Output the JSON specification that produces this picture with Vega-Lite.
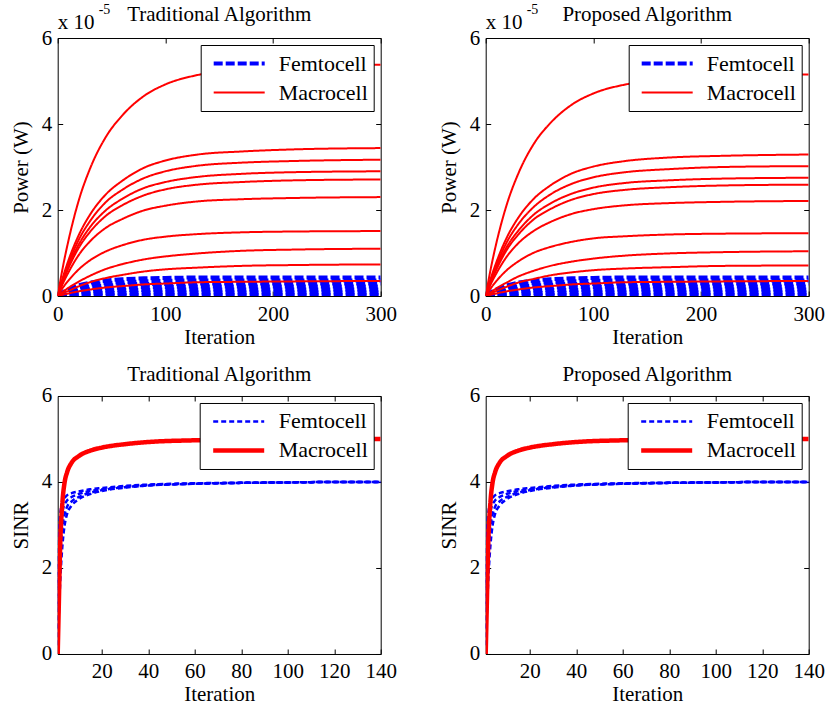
{
"$schema": "https://vega.github.io/schema/vega-lite/v6.json",
"background": "white",
"padding": {"left": 9.7, "top": 2, "right": 5, "bottom": 5},
"config": {
 "font": "Liberation Serif",
 "view": {"stroke": "black", "strokeWidth": 1},
 "axis": {"grid": false, "domain": false, "tickColor": "black", "labelColor": "black", "titleColor": "black", "labelFont": "Liberation Serif", "titleFont": "Liberation Serif", "labelFontSize": 21, "titleFontSize": 21, "titleFontWeight": "normal", "tickSize": -5, "tickWidth": 1, "labelFlush": false, "labelOverlap": false},
 "axisX": {"labelPadding": 12, "titlePadding": 2},
 "axisY": {"labelPadding": 11, "titlePadding": 10},
 "legend": {"orient": "top-right", "offset": 7, "strokeColor": "black", "fillColor": "white", "padding": 5, "labelFont": "Liberation Serif", "labelFontSize": 22, "labelColor": "black", "symbolType": "stroke", "symbolSize": 2601, "symbolOffset": 6, "labelOffset": 12, "clipHeight": 27, "rowPadding": 2},
 "title": {"font": "Liberation Serif", "fontSize": 21, "fontWeight": "normal", "color": "black"}
},
"datasets": {
 "femtoTop": [
  {"s":"Femtocell","id":"F1","t":0,"v":0},{"s":"Femtocell","id":"F1","t":5,"v":0.09},{"s":"Femtocell","id":"F1","t":10,"v":0.15},{"s":"Femtocell","id":"F1","t":20,"v":0.25},{"s":"Femtocell","id":"F1","t":30,"v":0.31},{"s":"Femtocell","id":"F1","t":45,"v":0.36},{"s":"Femtocell","id":"F1","t":60,"v":0.39},{"s":"Femtocell","id":"F1","t":80,"v":0.41},{"s":"Femtocell","id":"F1","t":100,"v":0.42},{"s":"Femtocell","id":"F1","t":130,"v":0.43},{"s":"Femtocell","id":"F1","t":170,"v":0.43},{"s":"Femtocell","id":"F1","t":220,"v":0.43},{"s":"Femtocell","id":"F1","t":300,"v":0.43},
  {"s":"Femtocell","id":"F2","t":0,"v":0},{"s":"Femtocell","id":"F2","t":5,"v":0.07},{"s":"Femtocell","id":"F2","t":10,"v":0.13},{"s":"Femtocell","id":"F2","t":20,"v":0.21},{"s":"Femtocell","id":"F2","t":30,"v":0.26},{"s":"Femtocell","id":"F2","t":45,"v":0.30},{"s":"Femtocell","id":"F2","t":60,"v":0.32},{"s":"Femtocell","id":"F2","t":80,"v":0.34},{"s":"Femtocell","id":"F2","t":100,"v":0.35},{"s":"Femtocell","id":"F2","t":130,"v":0.36},{"s":"Femtocell","id":"F2","t":170,"v":0.36},{"s":"Femtocell","id":"F2","t":220,"v":0.36},{"s":"Femtocell","id":"F2","t":300,"v":0.36},
  {"s":"Femtocell","id":"F3","t":0,"v":0},{"s":"Femtocell","id":"F3","t":5,"v":0.06},{"s":"Femtocell","id":"F3","t":10,"v":0.10},{"s":"Femtocell","id":"F3","t":20,"v":0.17},{"s":"Femtocell","id":"F3","t":30,"v":0.21},{"s":"Femtocell","id":"F3","t":45,"v":0.24},{"s":"Femtocell","id":"F3","t":60,"v":0.26},{"s":"Femtocell","id":"F3","t":80,"v":0.28},{"s":"Femtocell","id":"F3","t":100,"v":0.28},{"s":"Femtocell","id":"F3","t":130,"v":0.29},{"s":"Femtocell","id":"F3","t":170,"v":0.29},{"s":"Femtocell","id":"F3","t":220,"v":0.29},{"s":"Femtocell","id":"F3","t":300,"v":0.29},
  {"s":"Femtocell","id":"F4","t":0,"v":0},{"s":"Femtocell","id":"F4","t":5,"v":0.04},{"s":"Femtocell","id":"F4","t":10,"v":0.08},{"s":"Femtocell","id":"F4","t":20,"v":0.13},{"s":"Femtocell","id":"F4","t":30,"v":0.16},{"s":"Femtocell","id":"F4","t":45,"v":0.18},{"s":"Femtocell","id":"F4","t":60,"v":0.20},{"s":"Femtocell","id":"F4","t":80,"v":0.21},{"s":"Femtocell","id":"F4","t":100,"v":0.21},{"s":"Femtocell","id":"F4","t":130,"v":0.22},{"s":"Femtocell","id":"F4","t":170,"v":0.22},{"s":"Femtocell","id":"F4","t":220,"v":0.22},{"s":"Femtocell","id":"F4","t":300,"v":0.22},
  {"s":"Femtocell","id":"F5","t":0,"v":0},{"s":"Femtocell","id":"F5","t":5,"v":0.03},{"s":"Femtocell","id":"F5","t":10,"v":0.05},{"s":"Femtocell","id":"F5","t":20,"v":0.09},{"s":"Femtocell","id":"F5","t":30,"v":0.11},{"s":"Femtocell","id":"F5","t":45,"v":0.12},{"s":"Femtocell","id":"F5","t":60,"v":0.14},{"s":"Femtocell","id":"F5","t":80,"v":0.14},{"s":"Femtocell","id":"F5","t":100,"v":0.15},{"s":"Femtocell","id":"F5","t":130,"v":0.15},{"s":"Femtocell","id":"F5","t":170,"v":0.15},{"s":"Femtocell","id":"F5","t":220,"v":0.15},{"s":"Femtocell","id":"F5","t":300,"v":0.15},
  {"s":"Femtocell","id":"F6","t":0,"v":0},{"s":"Femtocell","id":"F6","t":5,"v":0.02},{"s":"Femtocell","id":"F6","t":10,"v":0.03},{"s":"Femtocell","id":"F6","t":20,"v":0.05},{"s":"Femtocell","id":"F6","t":30,"v":0.06},{"s":"Femtocell","id":"F6","t":45,"v":0.07},{"s":"Femtocell","id":"F6","t":60,"v":0.07},{"s":"Femtocell","id":"F6","t":80,"v":0.08},{"s":"Femtocell","id":"F6","t":100,"v":0.08},{"s":"Femtocell","id":"F6","t":130,"v":0.08},{"s":"Femtocell","id":"F6","t":170,"v":0.08},{"s":"Femtocell","id":"F6","t":220,"v":0.08},{"s":"Femtocell","id":"F6","t":300,"v":0.08},
  {"s":"Femtocell","id":"F7","t":0,"v":0},{"s":"Femtocell","id":"F7","t":5,"v":0.004},{"s":"Femtocell","id":"F7","t":10,"v":0.007},{"s":"Femtocell","id":"F7","t":20,"v":0.011},{"s":"Femtocell","id":"F7","t":30,"v":0.014},{"s":"Femtocell","id":"F7","t":45,"v":0.017},{"s":"Femtocell","id":"F7","t":60,"v":0.018},{"s":"Femtocell","id":"F7","t":80,"v":0.019},{"s":"Femtocell","id":"F7","t":100,"v":0.02},{"s":"Femtocell","id":"F7","t":130,"v":0.02},{"s":"Femtocell","id":"F7","t":170,"v":0.02},{"s":"Femtocell","id":"F7","t":220,"v":0.02},{"s":"Femtocell","id":"F7","t":300,"v":0.02}
 ],
 "macroTrad": [
  {"s":"Macrocell","id":"M1","t":0,"v":0},{"s":"Macrocell","id":"M1","t":5,"v":0.70},{"s":"Macrocell","id":"M1","t":10,"v":1.29},{"s":"Macrocell","id":"M1","t":20,"v":2.26},{"s":"Macrocell","id":"M1","t":30,"v":2.96},{"s":"Macrocell","id":"M1","t":45,"v":3.71},{"s":"Macrocell","id":"M1","t":60,"v":4.20},{"s":"Macrocell","id":"M1","t":80,"v":4.65},{"s":"Macrocell","id":"M1","t":100,"v":4.92},{"s":"Macrocell","id":"M1","t":130,"v":5.14},{"s":"Macrocell","id":"M1","t":170,"v":5.26},{"s":"Macrocell","id":"M1","t":220,"v":5.34},{"s":"Macrocell","id":"M1","t":300,"v":5.38},
  {"s":"Macrocell","id":"M2","t":0,"v":0},{"s":"Macrocell","id":"M2","t":5,"v":0.45},{"s":"Macrocell","id":"M2","t":10,"v":0.83},{"s":"Macrocell","id":"M2","t":20,"v":1.44},{"s":"Macrocell","id":"M2","t":30,"v":1.89},{"s":"Macrocell","id":"M2","t":45,"v":2.37},{"s":"Macrocell","id":"M2","t":60,"v":2.68},{"s":"Macrocell","id":"M2","t":80,"v":2.98},{"s":"Macrocell","id":"M2","t":100,"v":3.15},{"s":"Macrocell","id":"M2","t":130,"v":3.29},{"s":"Macrocell","id":"M2","t":170,"v":3.36},{"s":"Macrocell","id":"M2","t":220,"v":3.41},{"s":"Macrocell","id":"M2","t":300,"v":3.44},
  {"s":"Macrocell","id":"M3","t":0,"v":0},{"s":"Macrocell","id":"M3","t":5,"v":0.41},{"s":"Macrocell","id":"M3","t":10,"v":0.76},{"s":"Macrocell","id":"M3","t":20,"v":1.33},{"s":"Macrocell","id":"M3","t":30,"v":1.74},{"s":"Macrocell","id":"M3","t":45,"v":2.19},{"s":"Macrocell","id":"M3","t":60,"v":2.47},{"s":"Macrocell","id":"M3","t":80,"v":2.74},{"s":"Macrocell","id":"M3","t":100,"v":2.90},{"s":"Macrocell","id":"M3","t":130,"v":3.03},{"s":"Macrocell","id":"M3","t":170,"v":3.10},{"s":"Macrocell","id":"M3","t":220,"v":3.14},{"s":"Macrocell","id":"M3","t":300,"v":3.17},
  {"s":"Macrocell","id":"M4","t":0,"v":0},{"s":"Macrocell","id":"M4","t":5,"v":0.38},{"s":"Macrocell","id":"M4","t":10,"v":0.70},{"s":"Macrocell","id":"M4","t":20,"v":1.22},{"s":"Macrocell","id":"M4","t":30,"v":1.60},{"s":"Macrocell","id":"M4","t":45,"v":2.00},{"s":"Macrocell","id":"M4","t":60,"v":2.26},{"s":"Macrocell","id":"M4","t":80,"v":2.51},{"s":"Macrocell","id":"M4","t":100,"v":2.65},{"s":"Macrocell","id":"M4","t":130,"v":2.77},{"s":"Macrocell","id":"M4","t":170,"v":2.84},{"s":"Macrocell","id":"M4","t":220,"v":2.88},{"s":"Macrocell","id":"M4","t":300,"v":2.90},
  {"s":"Macrocell","id":"M5","t":0,"v":0},{"s":"Macrocell","id":"M5","t":5,"v":0.35},{"s":"Macrocell","id":"M5","t":10,"v":0.65},{"s":"Macrocell","id":"M5","t":20,"v":1.14},{"s":"Macrocell","id":"M5","t":30,"v":1.49},{"s":"Macrocell","id":"M5","t":45,"v":1.87},{"s":"Macrocell","id":"M5","t":60,"v":2.11},{"s":"Macrocell","id":"M5","t":80,"v":2.34},{"s":"Macrocell","id":"M5","t":100,"v":2.48},{"s":"Macrocell","id":"M5","t":130,"v":2.59},{"s":"Macrocell","id":"M5","t":170,"v":2.65},{"s":"Macrocell","id":"M5","t":220,"v":2.69},{"s":"Macrocell","id":"M5","t":300,"v":2.71},
  {"s":"Macrocell","id":"M6","t":0,"v":0},{"s":"Macrocell","id":"M6","t":5,"v":0.30},{"s":"Macrocell","id":"M6","t":10,"v":0.55},{"s":"Macrocell","id":"M6","t":20,"v":0.97},{"s":"Macrocell","id":"M6","t":30,"v":1.27},{"s":"Macrocell","id":"M6","t":45,"v":1.59},{"s":"Macrocell","id":"M6","t":60,"v":1.79},{"s":"Macrocell","id":"M6","t":80,"v":1.99},{"s":"Macrocell","id":"M6","t":100,"v":2.10},{"s":"Macrocell","id":"M6","t":130,"v":2.20},{"s":"Macrocell","id":"M6","t":170,"v":2.25},{"s":"Macrocell","id":"M6","t":220,"v":2.28},{"s":"Macrocell","id":"M6","t":300,"v":2.30},
  {"s":"Macrocell","id":"M7","t":0,"v":0},{"s":"Macrocell","id":"M7","t":5,"v":0.20},{"s":"Macrocell","id":"M7","t":10,"v":0.36},{"s":"Macrocell","id":"M7","t":20,"v":0.63},{"s":"Macrocell","id":"M7","t":30,"v":0.83},{"s":"Macrocell","id":"M7","t":45,"v":1.04},{"s":"Macrocell","id":"M7","t":60,"v":1.18},{"s":"Macrocell","id":"M7","t":80,"v":1.31},{"s":"Macrocell","id":"M7","t":100,"v":1.38},{"s":"Macrocell","id":"M7","t":130,"v":1.44},{"s":"Macrocell","id":"M7","t":170,"v":1.48},{"s":"Macrocell","id":"M7","t":220,"v":1.50},{"s":"Macrocell","id":"M7","t":300,"v":1.51},
  {"s":"Macrocell","id":"M8","t":0,"v":0},{"s":"Macrocell","id":"M8","t":5,"v":0.10},{"s":"Macrocell","id":"M8","t":10,"v":0.19},{"s":"Macrocell","id":"M8","t":20,"v":0.34},{"s":"Macrocell","id":"M8","t":30,"v":0.47},{"s":"Macrocell","id":"M8","t":45,"v":0.63},{"s":"Macrocell","id":"M8","t":60,"v":0.74},{"s":"Macrocell","id":"M8","t":80,"v":0.85},{"s":"Macrocell","id":"M8","t":100,"v":0.92},{"s":"Macrocell","id":"M8","t":130,"v":0.99},{"s":"Macrocell","id":"M8","t":170,"v":1.05},{"s":"Macrocell","id":"M8","t":220,"v":1.08},{"s":"Macrocell","id":"M8","t":300,"v":1.10},
  {"s":"Macrocell","id":"M9","t":0,"v":0},{"s":"Macrocell","id":"M9","t":5,"v":0.07},{"s":"Macrocell","id":"M9","t":10,"v":0.12},{"s":"Macrocell","id":"M9","t":20,"v":0.23},{"s":"Macrocell","id":"M9","t":30,"v":0.32},{"s":"Macrocell","id":"M9","t":45,"v":0.42},{"s":"Macrocell","id":"M9","t":60,"v":0.49},{"s":"Macrocell","id":"M9","t":80,"v":0.57},{"s":"Macrocell","id":"M9","t":100,"v":0.62},{"s":"Macrocell","id":"M9","t":130,"v":0.66},{"s":"Macrocell","id":"M9","t":170,"v":0.70},{"s":"Macrocell","id":"M9","t":220,"v":0.72},{"s":"Macrocell","id":"M9","t":300,"v":0.735},
  {"s":"Macrocell","id":"M10","t":0,"v":0},{"s":"Macrocell","id":"M10","t":5,"v":0.03},{"s":"Macrocell","id":"M10","t":10,"v":0.06},{"s":"Macrocell","id":"M10","t":20,"v":0.11},{"s":"Macrocell","id":"M10","t":30,"v":0.15},{"s":"Macrocell","id":"M10","t":45,"v":0.20},{"s":"Macrocell","id":"M10","t":60,"v":0.23},{"s":"Macrocell","id":"M10","t":80,"v":0.27},{"s":"Macrocell","id":"M10","t":100,"v":0.29},{"s":"Macrocell","id":"M10","t":130,"v":0.32},{"s":"Macrocell","id":"M10","t":170,"v":0.33},{"s":"Macrocell","id":"M10","t":220,"v":0.34},{"s":"Macrocell","id":"M10","t":300,"v":0.35}
 ],
 "macroProp": [
  {"s":"Macrocell","id":"P1","t":0,"v":0},{"s":"Macrocell","id":"P1","t":5,"v":0.67},{"s":"Macrocell","id":"P1","t":10,"v":1.24},{"s":"Macrocell","id":"P1","t":20,"v":2.16},{"s":"Macrocell","id":"P1","t":30,"v":2.83},{"s":"Macrocell","id":"P1","t":45,"v":3.55},{"s":"Macrocell","id":"P1","t":60,"v":4.02},{"s":"Macrocell","id":"P1","t":80,"v":4.45},{"s":"Macrocell","id":"P1","t":100,"v":4.71},{"s":"Macrocell","id":"P1","t":130,"v":4.92},{"s":"Macrocell","id":"P1","t":170,"v":5.04},{"s":"Macrocell","id":"P1","t":220,"v":5.11},{"s":"Macrocell","id":"P1","t":300,"v":5.15},
  {"s":"Macrocell","id":"P2","t":0,"v":0},{"s":"Macrocell","id":"P2","t":5,"v":0.43},{"s":"Macrocell","id":"P2","t":10,"v":0.79},{"s":"Macrocell","id":"P2","t":20,"v":1.38},{"s":"Macrocell","id":"P2","t":30,"v":1.81},{"s":"Macrocell","id":"P2","t":45,"v":2.27},{"s":"Macrocell","id":"P2","t":60,"v":2.57},{"s":"Macrocell","id":"P2","t":80,"v":2.85},{"s":"Macrocell","id":"P2","t":100,"v":3.01},{"s":"Macrocell","id":"P2","t":130,"v":3.14},{"s":"Macrocell","id":"P2","t":170,"v":3.22},{"s":"Macrocell","id":"P2","t":220,"v":3.26},{"s":"Macrocell","id":"P2","t":300,"v":3.29},
  {"s":"Macrocell","id":"P3","t":0,"v":0},{"s":"Macrocell","id":"P3","t":5,"v":0.39},{"s":"Macrocell","id":"P3","t":10,"v":0.72},{"s":"Macrocell","id":"P3","t":20,"v":1.27},{"s":"Macrocell","id":"P3","t":30,"v":1.66},{"s":"Macrocell","id":"P3","t":45,"v":2.08},{"s":"Macrocell","id":"P3","t":60,"v":2.36},{"s":"Macrocell","id":"P3","t":80,"v":2.61},{"s":"Macrocell","id":"P3","t":100,"v":2.76},{"s":"Macrocell","id":"P3","t":130,"v":2.88},{"s":"Macrocell","id":"P3","t":170,"v":2.95},{"s":"Macrocell","id":"P3","t":220,"v":3.00},{"s":"Macrocell","id":"P3","t":300,"v":3.02},
  {"s":"Macrocell","id":"P4","t":0,"v":0},{"s":"Macrocell","id":"P4","t":5,"v":0.36},{"s":"Macrocell","id":"P4","t":10,"v":0.66},{"s":"Macrocell","id":"P4","t":20,"v":1.16},{"s":"Macrocell","id":"P4","t":30,"v":1.51},{"s":"Macrocell","id":"P4","t":45,"v":1.90},{"s":"Macrocell","id":"P4","t":60,"v":2.15},{"s":"Macrocell","id":"P4","t":80,"v":2.38},{"s":"Macrocell","id":"P4","t":100,"v":2.52},{"s":"Macrocell","id":"P4","t":130,"v":2.63},{"s":"Macrocell","id":"P4","t":170,"v":2.69},{"s":"Macrocell","id":"P4","t":220,"v":2.73},{"s":"Macrocell","id":"P4","t":300,"v":2.75},
  {"s":"Macrocell","id":"P5","t":0,"v":0},{"s":"Macrocell","id":"P5","t":5,"v":0.34},{"s":"Macrocell","id":"P5","t":10,"v":0.62},{"s":"Macrocell","id":"P5","t":20,"v":1.09},{"s":"Macrocell","id":"P5","t":30,"v":1.42},{"s":"Macrocell","id":"P5","t":45,"v":1.79},{"s":"Macrocell","id":"P5","t":60,"v":2.02},{"s":"Macrocell","id":"P5","t":80,"v":2.24},{"s":"Macrocell","id":"P5","t":100,"v":2.37},{"s":"Macrocell","id":"P5","t":130,"v":2.47},{"s":"Macrocell","id":"P5","t":170,"v":2.53},{"s":"Macrocell","id":"P5","t":220,"v":2.57},{"s":"Macrocell","id":"P5","t":300,"v":2.59},
  {"s":"Macrocell","id":"P6","t":0,"v":0},{"s":"Macrocell","id":"P6","t":5,"v":0.29},{"s":"Macrocell","id":"P6","t":10,"v":0.53},{"s":"Macrocell","id":"P6","t":20,"v":0.93},{"s":"Macrocell","id":"P6","t":30,"v":1.22},{"s":"Macrocell","id":"P6","t":45,"v":1.52},{"s":"Macrocell","id":"P6","t":60,"v":1.72},{"s":"Macrocell","id":"P6","t":80,"v":1.91},{"s":"Macrocell","id":"P6","t":100,"v":2.02},{"s":"Macrocell","id":"P6","t":130,"v":2.11},{"s":"Macrocell","id":"P6","t":170,"v":2.16},{"s":"Macrocell","id":"P6","t":220,"v":2.19},{"s":"Macrocell","id":"P6","t":300,"v":2.21},
  {"s":"Macrocell","id":"P7","t":0,"v":0},{"s":"Macrocell","id":"P7","t":5,"v":0.19},{"s":"Macrocell","id":"P7","t":10,"v":0.35},{"s":"Macrocell","id":"P7","t":20,"v":0.61},{"s":"Macrocell","id":"P7","t":30,"v":0.80},{"s":"Macrocell","id":"P7","t":45,"v":1.01},{"s":"Macrocell","id":"P7","t":60,"v":1.14},{"s":"Macrocell","id":"P7","t":80,"v":1.26},{"s":"Macrocell","id":"P7","t":100,"v":1.34},{"s":"Macrocell","id":"P7","t":130,"v":1.39},{"s":"Macrocell","id":"P7","t":170,"v":1.43},{"s":"Macrocell","id":"P7","t":220,"v":1.45},{"s":"Macrocell","id":"P7","t":300,"v":1.46},
  {"s":"Macrocell","id":"P8","t":0,"v":0},{"s":"Macrocell","id":"P8","t":5,"v":0.09},{"s":"Macrocell","id":"P8","t":10,"v":0.18},{"s":"Macrocell","id":"P8","t":20,"v":0.32},{"s":"Macrocell","id":"P8","t":30,"v":0.45},{"s":"Macrocell","id":"P8","t":45,"v":0.59},{"s":"Macrocell","id":"P8","t":60,"v":0.70},{"s":"Macrocell","id":"P8","t":80,"v":0.80},{"s":"Macrocell","id":"P8","t":100,"v":0.87},{"s":"Macrocell","id":"P8","t":130,"v":0.94},{"s":"Macrocell","id":"P8","t":170,"v":0.99},{"s":"Macrocell","id":"P8","t":220,"v":1.02},{"s":"Macrocell","id":"P8","t":300,"v":1.04},
  {"s":"Macrocell","id":"P9","t":0,"v":0},{"s":"Macrocell","id":"P9","t":5,"v":0.06},{"s":"Macrocell","id":"P9","t":10,"v":0.12},{"s":"Macrocell","id":"P9","t":20,"v":0.22},{"s":"Macrocell","id":"P9","t":30,"v":0.31},{"s":"Macrocell","id":"P9","t":45,"v":0.40},{"s":"Macrocell","id":"P9","t":60,"v":0.48},{"s":"Macrocell","id":"P9","t":80,"v":0.55},{"s":"Macrocell","id":"P9","t":100,"v":0.60},{"s":"Macrocell","id":"P9","t":130,"v":0.64},{"s":"Macrocell","id":"P9","t":170,"v":0.67},{"s":"Macrocell","id":"P9","t":220,"v":0.70},{"s":"Macrocell","id":"P9","t":300,"v":0.71},
  {"s":"Macrocell","id":"P10","t":0,"v":0},{"s":"Macrocell","id":"P10","t":5,"v":0.03},{"s":"Macrocell","id":"P10","t":10,"v":0.06},{"s":"Macrocell","id":"P10","t":20,"v":0.11},{"s":"Macrocell","id":"P10","t":30,"v":0.15},{"s":"Macrocell","id":"P10","t":45,"v":0.20},{"s":"Macrocell","id":"P10","t":60,"v":0.23},{"s":"Macrocell","id":"P10","t":80,"v":0.27},{"s":"Macrocell","id":"P10","t":100,"v":0.29},{"s":"Macrocell","id":"P10","t":130,"v":0.32},{"s":"Macrocell","id":"P10","t":170,"v":0.33},{"s":"Macrocell","id":"P10","t":220,"v":0.34},{"s":"Macrocell","id":"P10","t":300,"v":0.35}
 ],
 "sinrFemto": [
  {"s":"Femtocell","id":"S1","t":1,"v":1.6},{"s":"Femtocell","id":"S1","t":1.5,"v":2.6},{"s":"Femtocell","id":"S1","t":2,"v":3.2},{"s":"Femtocell","id":"S1","t":3,"v":3.52},{"s":"Femtocell","id":"S1","t":4,"v":3.63},{"s":"Femtocell","id":"S1","t":5,"v":3.69},{"s":"Femtocell","id":"S1","t":7,"v":3.74},{"s":"Femtocell","id":"S1","t":10,"v":3.78},{"s":"Femtocell","id":"S1","t":15,"v":3.83},{"s":"Femtocell","id":"S1","t":20,"v":3.86},{"s":"Femtocell","id":"S1","t":30,"v":3.91},{"s":"Femtocell","id":"S1","t":40,"v":3.94},{"s":"Femtocell","id":"S1","t":60,"v":3.97},{"s":"Femtocell","id":"S1","t":80,"v":3.98},{"s":"Femtocell","id":"S1","t":100,"v":3.99},{"s":"Femtocell","id":"S1","t":120,"v":4.0},{"s":"Femtocell","id":"S1","t":140,"v":4.0},
  {"s":"Femtocell","id":"S2","t":1,"v":1.1},{"s":"Femtocell","id":"S2","t":1.5,"v":2.1},{"s":"Femtocell","id":"S2","t":2,"v":2.8},{"s":"Femtocell","id":"S2","t":3,"v":3.3},{"s":"Femtocell","id":"S2","t":4,"v":3.48},{"s":"Femtocell","id":"S2","t":5,"v":3.57},{"s":"Femtocell","id":"S2","t":7,"v":3.65},{"s":"Femtocell","id":"S2","t":10,"v":3.72},{"s":"Femtocell","id":"S2","t":15,"v":3.79},{"s":"Femtocell","id":"S2","t":20,"v":3.83},{"s":"Femtocell","id":"S2","t":30,"v":3.89},{"s":"Femtocell","id":"S2","t":40,"v":3.93},{"s":"Femtocell","id":"S2","t":60,"v":3.96},{"s":"Femtocell","id":"S2","t":80,"v":3.98},{"s":"Femtocell","id":"S2","t":100,"v":3.99},{"s":"Femtocell","id":"S2","t":120,"v":4.0},{"s":"Femtocell","id":"S2","t":140,"v":4.0},
  {"s":"Femtocell","id":"S3","t":1,"v":0.6},{"s":"Femtocell","id":"S3","t":1.5,"v":1.5},{"s":"Femtocell","id":"S3","t":2,"v":2.2},{"s":"Femtocell","id":"S3","t":3,"v":2.95},{"s":"Femtocell","id":"S3","t":4,"v":3.25},{"s":"Femtocell","id":"S3","t":5,"v":3.42},{"s":"Femtocell","id":"S3","t":7,"v":3.55},{"s":"Femtocell","id":"S3","t":10,"v":3.65},{"s":"Femtocell","id":"S3","t":15,"v":3.75},{"s":"Femtocell","id":"S3","t":20,"v":3.81},{"s":"Femtocell","id":"S3","t":30,"v":3.88},{"s":"Femtocell","id":"S3","t":40,"v":3.92},{"s":"Femtocell","id":"S3","t":60,"v":3.96},{"s":"Femtocell","id":"S3","t":80,"v":3.98},{"s":"Femtocell","id":"S3","t":100,"v":3.99},{"s":"Femtocell","id":"S3","t":120,"v":4.0},{"s":"Femtocell","id":"S3","t":140,"v":4.0},
  {"s":"Femtocell","id":"S4","t":1,"v":0.2},{"s":"Femtocell","id":"S4","t":1.5,"v":0.9},{"s":"Femtocell","id":"S4","t":2,"v":1.6},{"s":"Femtocell","id":"S4","t":3,"v":2.5},{"s":"Femtocell","id":"S4","t":4,"v":3.0},{"s":"Femtocell","id":"S4","t":5,"v":3.25},{"s":"Femtocell","id":"S4","t":7,"v":3.45},{"s":"Femtocell","id":"S4","t":10,"v":3.6},{"s":"Femtocell","id":"S4","t":15,"v":3.72},{"s":"Femtocell","id":"S4","t":20,"v":3.79},{"s":"Femtocell","id":"S4","t":30,"v":3.87},{"s":"Femtocell","id":"S4","t":40,"v":3.92},{"s":"Femtocell","id":"S4","t":60,"v":3.96},{"s":"Femtocell","id":"S4","t":80,"v":3.98},{"s":"Femtocell","id":"S4","t":100,"v":3.99},{"s":"Femtocell","id":"S4","t":120,"v":4.0},{"s":"Femtocell","id":"S4","t":140,"v":4.0}
 ],
 "sinrMacro": [
  {"s":"Macrocell","id":"R1","t":1,"v":0},{"s":"Macrocell","id":"R1","t":1.5,"v":1.2},{"s":"Macrocell","id":"R1","t":2,"v":2.4},{"s":"Macrocell","id":"R1","t":3,"v":3.5},{"s":"Macrocell","id":"R1","t":4,"v":4.0},{"s":"Macrocell","id":"R1","t":5,"v":4.22},{"s":"Macrocell","id":"R1","t":7,"v":4.45},{"s":"Macrocell","id":"R1","t":10,"v":4.6},{"s":"Macrocell","id":"R1","t":15,"v":4.73},{"s":"Macrocell","id":"R1","t":20,"v":4.8},{"s":"Macrocell","id":"R1","t":30,"v":4.88},{"s":"Macrocell","id":"R1","t":40,"v":4.93},{"s":"Macrocell","id":"R1","t":60,"v":4.97},{"s":"Macrocell","id":"R1","t":80,"v":4.99},{"s":"Macrocell","id":"R1","t":100,"v":5.0},{"s":"Macrocell","id":"R1","t":120,"v":5.0},{"s":"Macrocell","id":"R1","t":140,"v":5.0}
 ]
},
"spacing": 15,
"resolve": {"scale": {"color": "independent", "strokeDash": "independent", "strokeWidth": "independent"}, "legend": {"color": "independent", "strokeDash": "independent", "strokeWidth": "independent"}},
"vconcat": [
 {"hconcat": [
  {"width": 323, "height": 258,
   "title": {"text": "Traditional Algorithm", "frame": "group", "baseline": "alphabetic", "offset": -39},
   "resolve": {"axis": {"x": "independent", "y": "independent"}},
   "layer": [
    {"data": {"name": "femtoTop"}, "mark": {"type": "line", "interpolate": "monotone", "clip": true},
     "encoding": {
      "x": {"field": "t", "type": "quantitative", "scale": {"domain": [0, 300], "nice": false}, "axis": {"values": [0, 100, 200, 300], "title": "Iteration"}},
      "y": {"field": "v", "type": "quantitative", "scale": {"domain": [0, 6], "nice": false}, "axis": {"values": [0, 2, 4, 6], "title": "Power (W)"}},
      "detail": {"field": "id"},
      "color": {"field": "s", "type": "nominal", "scale": {"domain": ["Femtocell", "Macrocell"], "range": ["#0000ff", "#ff0000"]}, "legend": {"title": null}},
      "strokeDash": {"field": "s", "type": "nominal", "scale": {"domain": ["Femtocell", "Macrocell"], "range": [[9, 3], [1, 0]]}, "legend": {"title": null}},
      "strokeWidth": {"field": "s", "type": "nominal", "scale": {"domain": ["Femtocell", "Macrocell"], "range": [4, 2]}, "legend": {"title": null}}
     }},
    {"data": {"name": "macroTrad"}, "mark": {"type": "line", "interpolate": "monotone", "clip": true},
     "encoding": {
      "x": {"field": "t", "type": "quantitative", "axis": null},
      "y": {"field": "v", "type": "quantitative", "axis": null},
      "detail": {"field": "id"},
      "color": {"field": "s", "type": "nominal", "legend": {"title": null}},
      "strokeDash": {"field": "s", "type": "nominal", "legend": {"title": null}},
      "strokeWidth": {"field": "s", "type": "nominal", "legend": {"title": null}}
     }},
    {"data": {"name": "macroTrad"}, "mark": {"type": "line", "opacity": 0},
     "encoding": {
      "x": {"field": "t", "type": "quantitative", "axis": {"orient": "top", "labels": false, "title": null, "values": [0, 100, 200, 300]}},
      "y": {"field": "v", "type": "quantitative", "axis": {"orient": "right", "labels": false, "title": null, "values": [0, 2, 4, 6]}},
      "detail": {"field": "id"}
     }},
    {"data": {"values": [{"a": "x 10", "b": "-5"}]}, "mark": {"type": "text", "align": "left", "baseline": "alphabetic", "dy": -9, "fontSize": 21, "color": "black"},
     "encoding": {"x": {"datum": 0, "axis": null}, "y": {"datum": 6, "axis": null}, "text": {"field": "a"}}},
    {"data": {"values": [{"a": "x 10", "b": "-5"}]}, "mark": {"type": "text", "align": "left", "baseline": "alphabetic", "dx": 41, "dy": -24, "fontSize": 14, "color": "black"},
     "encoding": {"x": {"datum": 0, "axis": null}, "y": {"datum": 6, "axis": null}, "text": {"field": "b"}}}
   ]},
  {"width": 323, "height": 258,
   "title": {"text": "Proposed Algorithm", "frame": "group", "baseline": "alphabetic", "offset": -39},
   "resolve": {"axis": {"x": "independent", "y": "independent"}},
   "layer": [
    {"data": {"name": "femtoTop"}, "mark": {"type": "line", "interpolate": "monotone", "clip": true},
     "encoding": {
      "x": {"field": "t", "type": "quantitative", "scale": {"domain": [0, 300], "nice": false}, "axis": {"values": [0, 100, 200, 300], "title": "Iteration"}},
      "y": {"field": "v", "type": "quantitative", "scale": {"domain": [0, 6], "nice": false}, "axis": {"values": [0, 2, 4, 6], "title": "Power (W)"}},
      "detail": {"field": "id"},
      "color": {"field": "s", "type": "nominal", "scale": {"domain": ["Femtocell", "Macrocell"], "range": ["#0000ff", "#ff0000"]}, "legend": {"title": null}},
      "strokeDash": {"field": "s", "type": "nominal", "scale": {"domain": ["Femtocell", "Macrocell"], "range": [[9, 3], [1, 0]]}, "legend": {"title": null}},
      "strokeWidth": {"field": "s", "type": "nominal", "scale": {"domain": ["Femtocell", "Macrocell"], "range": [4, 2]}, "legend": {"title": null}}
     }},
    {"data": {"name": "macroProp"}, "mark": {"type": "line", "interpolate": "monotone", "clip": true},
     "encoding": {
      "x": {"field": "t", "type": "quantitative", "axis": null},
      "y": {"field": "v", "type": "quantitative", "axis": null},
      "detail": {"field": "id"},
      "color": {"field": "s", "type": "nominal", "legend": {"title": null}},
      "strokeDash": {"field": "s", "type": "nominal", "legend": {"title": null}},
      "strokeWidth": {"field": "s", "type": "nominal", "legend": {"title": null}}
     }},
    {"data": {"name": "macroProp"}, "mark": {"type": "line", "opacity": 0},
     "encoding": {
      "x": {"field": "t", "type": "quantitative", "axis": {"orient": "top", "labels": false, "title": null, "values": [0, 100, 200, 300]}},
      "y": {"field": "v", "type": "quantitative", "axis": {"orient": "right", "labels": false, "title": null, "values": [0, 2, 4, 6]}},
      "detail": {"field": "id"}
     }},
    {"data": {"values": [{"a": "x 10", "b": "-5"}]}, "mark": {"type": "text", "align": "left", "baseline": "alphabetic", "dy": -9, "fontSize": 21, "color": "black"},
     "encoding": {"x": {"datum": 0, "axis": null}, "y": {"datum": 6, "axis": null}, "text": {"field": "a"}}},
    {"data": {"values": [{"a": "x 10", "b": "-5"}]}, "mark": {"type": "text", "align": "left", "baseline": "alphabetic", "dx": 41, "dy": -24, "fontSize": 14, "color": "black"},
     "encoding": {"x": {"datum": 0, "axis": null}, "y": {"datum": 6, "axis": null}, "text": {"field": "b"}}}
   ]}
 ], "spacing": 105, "bounds": "flush",
 "resolve": {"scale": {"color": "independent", "strokeDash": "independent", "strokeWidth": "independent"}, "legend": {"color": "independent", "strokeDash": "independent", "strokeWidth": "independent"}}},
 {"hconcat": [
  {"width": 323, "height": 258,
   "title": {"text": "Traditional Algorithm", "frame": "group", "baseline": "alphabetic", "offset": -17},
   "resolve": {"axis": {"x": "independent", "y": "independent"}},
   "layer": [
    {"data": {"name": "sinrFemto"}, "mark": {"type": "line", "interpolate": "monotone", "clip": true},
     "encoding": {
      "x": {"field": "t", "type": "quantitative", "scale": {"domain": [1, 140], "nice": false, "zero": false}, "axis": {"values": [20, 40, 60, 80, 100, 120, 140], "title": "Iteration"}},
      "y": {"field": "v", "type": "quantitative", "scale": {"domain": [0, 6], "nice": false}, "axis": {"values": [0, 2, 4, 6], "title": "SINR"}},
      "detail": {"field": "id"},
      "color": {"field": "s", "type": "nominal", "scale": {"domain": ["Femtocell", "Macrocell"], "range": ["#0000ff", "#ff0000"]}, "legend": {"title": null}},
      "strokeDash": {"field": "s", "type": "nominal", "scale": {"domain": ["Femtocell", "Macrocell"], "range": [[5, 3], [1, 0]]}, "legend": {"title": null}},
      "strokeWidth": {"field": "s", "type": "nominal", "scale": {"domain": ["Femtocell", "Macrocell"], "range": [2.5, 4.5]}, "legend": {"title": null}}
     }},
    {"data": {"name": "sinrMacro"}, "mark": {"type": "line", "interpolate": "monotone", "clip": true},
     "encoding": {
      "x": {"field": "t", "type": "quantitative", "axis": null},
      "y": {"field": "v", "type": "quantitative", "axis": null},
      "detail": {"field": "id"},
      "color": {"field": "s", "type": "nominal", "legend": {"title": null}},
      "strokeDash": {"field": "s", "type": "nominal", "legend": {"title": null}},
      "strokeWidth": {"field": "s", "type": "nominal", "legend": {"title": null}}
     }},
    {"data": {"name": "sinrMacro"}, "mark": {"type": "line", "opacity": 0},
     "encoding": {
      "x": {"field": "t", "type": "quantitative", "axis": {"orient": "top", "labels": false, "title": null, "values": [20, 40, 60, 80, 100, 120, 140]}},
      "y": {"field": "v", "type": "quantitative", "axis": {"orient": "right", "labels": false, "title": null, "values": [0, 2, 4, 6]}},
      "detail": {"field": "id"}
     }}
   ]},
  {"width": 323, "height": 258,
   "title": {"text": "Proposed Algorithm", "frame": "group", "baseline": "alphabetic", "offset": -17},
   "resolve": {"axis": {"x": "independent", "y": "independent"}},
   "layer": [
    {"data": {"name": "sinrFemto"}, "mark": {"type": "line", "interpolate": "monotone", "clip": true},
     "encoding": {
      "x": {"field": "t", "type": "quantitative", "scale": {"domain": [1, 140], "nice": false, "zero": false}, "axis": {"values": [20, 40, 60, 80, 100, 120, 140], "title": "Iteration"}},
      "y": {"field": "v", "type": "quantitative", "scale": {"domain": [0, 6], "nice": false}, "axis": {"values": [0, 2, 4, 6], "title": "SINR"}},
      "detail": {"field": "id"},
      "color": {"field": "s", "type": "nominal", "scale": {"domain": ["Femtocell", "Macrocell"], "range": ["#0000ff", "#ff0000"]}, "legend": {"title": null}},
      "strokeDash": {"field": "s", "type": "nominal", "scale": {"domain": ["Femtocell", "Macrocell"], "range": [[5, 3], [1, 0]]}, "legend": {"title": null}},
      "strokeWidth": {"field": "s", "type": "nominal", "scale": {"domain": ["Femtocell", "Macrocell"], "range": [2.5, 4.5]}, "legend": {"title": null}}
     }},
    {"data": {"name": "sinrMacro"}, "mark": {"type": "line", "interpolate": "monotone", "clip": true},
     "encoding": {
      "x": {"field": "t", "type": "quantitative", "axis": null},
      "y": {"field": "v", "type": "quantitative", "axis": null},
      "detail": {"field": "id"},
      "color": {"field": "s", "type": "nominal", "legend": {"title": null}},
      "strokeDash": {"field": "s", "type": "nominal", "legend": {"title": null}},
      "strokeWidth": {"field": "s", "type": "nominal", "legend": {"title": null}}
     }},
    {"data": {"name": "sinrMacro"}, "mark": {"type": "line", "opacity": 0},
     "encoding": {
      "x": {"field": "t", "type": "quantitative", "axis": {"orient": "top", "labels": false, "title": null, "values": [20, 40, 60, 80, 100, 120, 140]}},
      "y": {"field": "v", "type": "quantitative", "axis": {"orient": "right", "labels": false, "title": null, "values": [0, 2, 4, 6]}},
      "detail": {"field": "id"}
     }}
   ]}
 ], "spacing": 105, "bounds": "flush",
 "resolve": {"scale": {"color": "independent", "strokeDash": "independent", "strokeWidth": "independent"}, "legend": {"color": "independent", "strokeDash": "independent", "strokeWidth": "independent"}}}
]
}
